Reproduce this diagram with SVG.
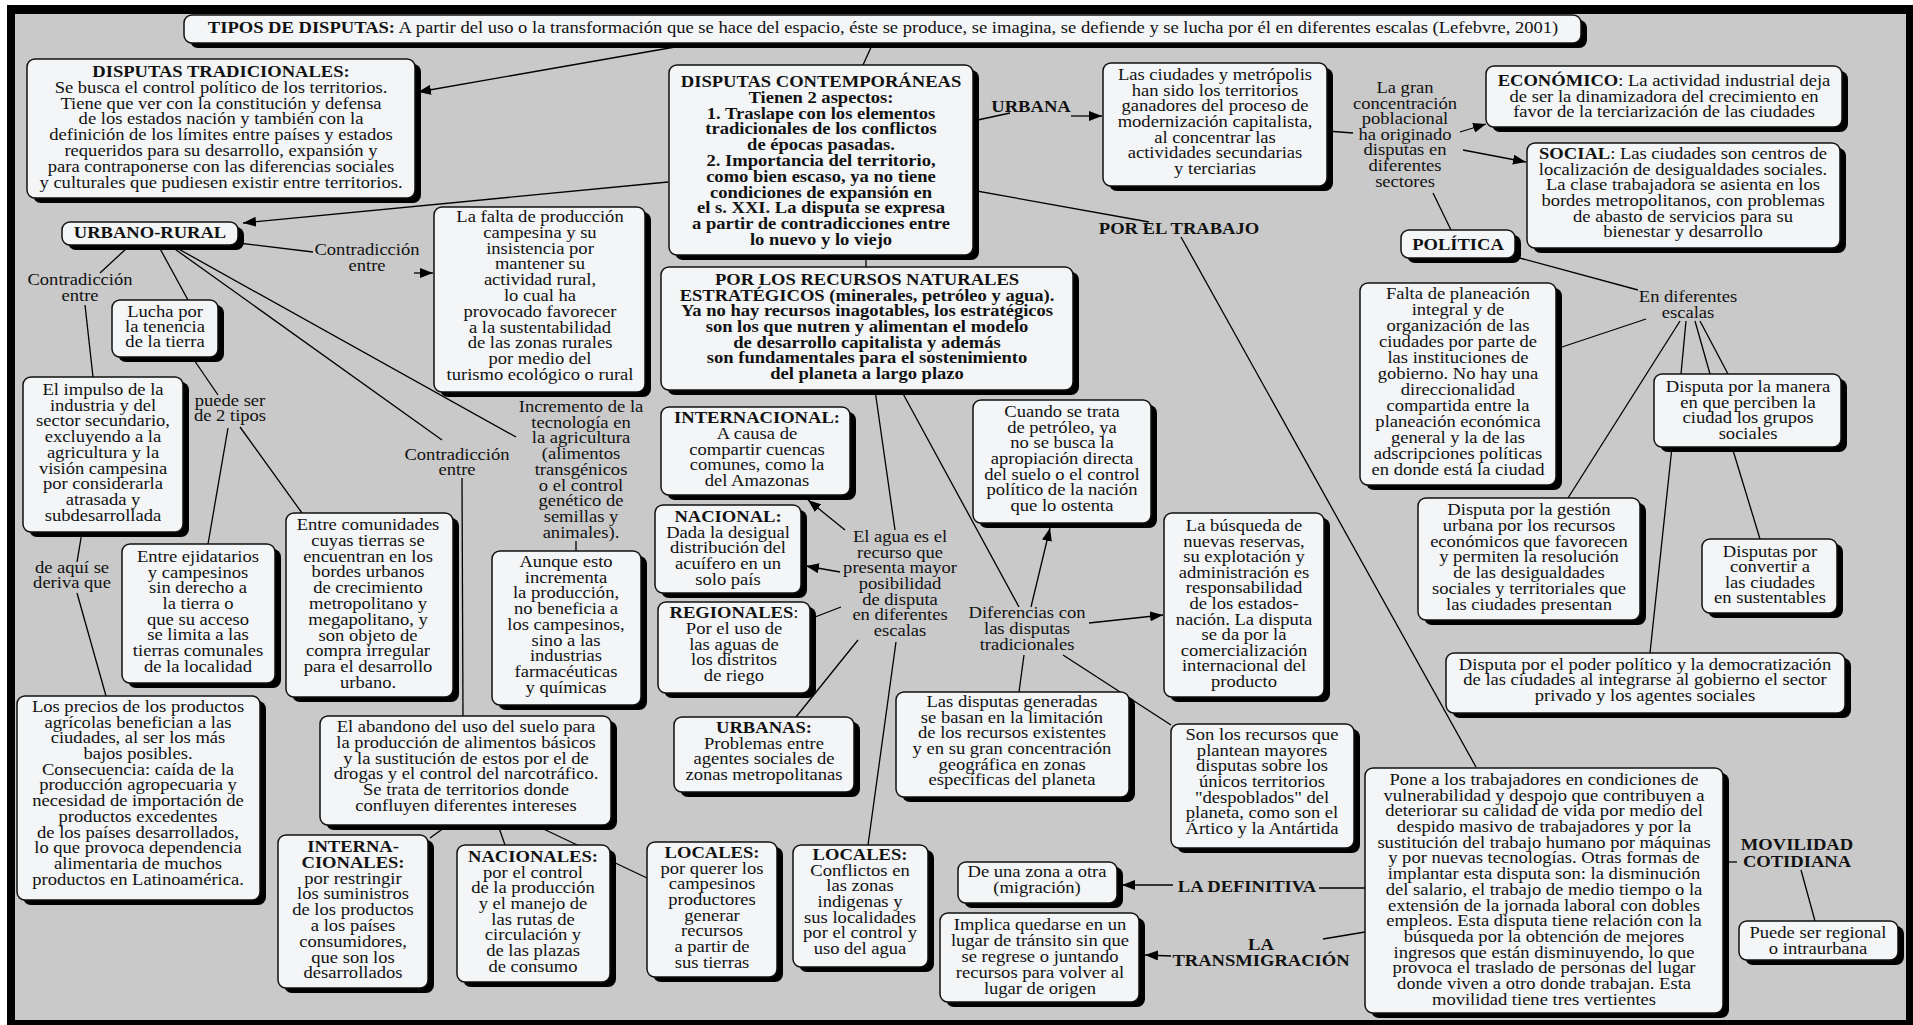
<svg xmlns="http://www.w3.org/2000/svg" width="1913" height="1025" viewBox="0 0 1913 1025">
<style>
.sh{fill:#000}
.bx{fill:#f3f5f7;stroke:#111;stroke-width:1.5}
.t{font-family:"Liberation Serif","Times New Roman",serif;font-size:16px;fill:#111;text-anchor:middle}
.b{font-weight:bold}
.ln{stroke:#000;stroke-width:1.3;fill:none}
.ar{marker-end:url(#ah)}
</style>
<defs>
<marker id="ah" markerUnits="userSpaceOnUse" markerWidth="14" markerHeight="10" refX="13" refY="5" orient="auto">
<path d="M0,0 L13,5 L0,10 z" fill="#000"/>
</marker>
</defs>
<rect x="0" y="0" width="1913" height="1025" fill="#fff"/>
<rect x="7" y="5" width="1906" height="1020" fill="#000"/>
<rect x="15" y="14" width="1891" height="1006" fill="#c9c9c9"/>

<g id="connectors">
<line class="ln ar" x1="675" y1="47" x2="418" y2="92"/>
<line class="ln" x1="873" y1="43" x2="863" y2="65"/>
<line class="ln ar" x1="668" y1="182" x2="243" y2="223"/>
<line class="ln" x1="973" y1="121" x2="1010" y2="113"/>
<line class="ln ar" x1="1071" y1="116" x2="1102" y2="116"/>
<line class="ln" x1="960" y1="188" x2="1149" y2="222"/>
<line class="ln" x1="1181" y1="237" x2="1476" y2="767"/>
<line class="ln" x1="866" y1="255" x2="866" y2="267"/>
<line class="ln" x1="1327" y1="131" x2="1353" y2="133"/>
<line class="ln ar" x1="1460" y1="132" x2="1486" y2="124"/>
<line class="ln ar" x1="1463" y1="150" x2="1526" y2="162"/>
<line class="ln" x1="1433" y1="193" x2="1451" y2="230"/>
<line class="ln" x1="1516" y1="257" x2="1638" y2="290"/>
<line class="ln" x1="1646" y1="319" x2="1556" y2="349"/>
<line class="ln" x1="1680" y1="321" x2="1568" y2="498"/>
<line class="ln" x1="1686" y1="321" x2="1681" y2="374"/>
<line class="ln" x1="1695" y1="321" x2="1710" y2="374"/>
<line class="ln" x1="1700" y1="321" x2="1728" y2="374"/>
<line class="ln" x1="1672" y1="447" x2="1650" y2="653"/>
<line class="ln" x1="1732" y1="447" x2="1760" y2="539"/>
<line class="ln" x1="1723" y1="862" x2="1737" y2="862"/>
<line class="ln" x1="1801" y1="870" x2="1815" y2="921"/>
<line class="ln" x1="1365" y1="888" x2="1319" y2="888"/>
<line class="ln ar" x1="1173" y1="885" x2="1122" y2="885"/>
<line class="ln" x1="1365" y1="932" x2="1323" y2="939"/>
<line class="ln ar" x1="1171" y1="956" x2="1145" y2="955"/>
<line class="ln" x1="875" y1="390" x2="895" y2="530"/>
<line class="ln" x1="901" y1="390" x2="1019" y2="607"/>
<line class="ln ar" x1="845" y1="530" x2="808" y2="500"/>
<line class="ln ar" x1="840" y1="572" x2="806" y2="566"/>
<line class="ln" x1="841" y1="607" x2="815" y2="617"/>
<line class="ln" x1="858" y1="640" x2="796" y2="717"/>
<line class="ln" x1="896" y1="642" x2="868" y2="845"/>
<line class="ln ar" x1="1031" y1="607" x2="1050" y2="528"/>
<line class="ln ar" x1="1089" y1="623" x2="1163" y2="615"/>
<line class="ln" x1="1024" y1="655" x2="1019" y2="692"/>
<line class="ln" x1="1063" y1="655" x2="1171" y2="725"/>
<line class="ln" x1="238" y1="243" x2="313" y2="252"/>
<line class="ln ar" x1="414" y1="273" x2="433" y2="273"/>
<line class="ln" x1="128" y1="247" x2="100" y2="273"/>
<line class="ln" x1="85" y1="305" x2="93" y2="377"/>
<line class="ln" x1="158" y1="245" x2="188" y2="300"/>
<line class="ln" x1="172" y1="247" x2="442" y2="440"/>
<line class="ln" x1="175" y1="247" x2="516" y2="437"/>
<line class="ln" x1="192" y1="357" x2="218" y2="395"/>
<line class="ln" x1="228" y1="428" x2="208" y2="544"/>
<line class="ln" x1="240" y1="427" x2="302" y2="513"/>
<line class="ln" x1="82" y1="532" x2="77" y2="562"/>
<line class="ln" x1="77" y1="593" x2="106" y2="696"/>
<line class="ln" x1="462" y1="478" x2="463" y2="716"/>
<line class="ln" x1="576" y1="541" x2="576" y2="551"/>
<line class="ln" x1="448" y1="825" x2="430" y2="838"/>
<line class="ln" x1="498" y1="825" x2="505" y2="845"/>
<line class="ln" x1="535" y1="825" x2="647" y2="878"/>
</g>

<g id="n-title">
<rect class="sh" x="190" y="20" width="1397" height="28" rx="8"/>
<rect class="bx" x="184" y="15" width="1397" height="28" rx="8"/>
<text class="t" transform="translate(883,0) scale(1.16,1)"><tspan x="0" y="33.5"><tspan class="b">TIPOS DE DISPUTAS:</tspan> A partir del uso o la transformación que se hace del espacio, éste se produce, se imagina, se defiende y se  lucha por él en diferentes escalas  (Lefebvre, 2001)</tspan></text>
</g>

<g id="n-tradicionales">
<rect class="sh" x="33" y="64" width="388" height="139" rx="8"/>
<rect class="bx" x="27" y="59" width="388" height="139" rx="8"/>
<text class="t" transform="translate(221,0) scale(1.16,1)"><tspan x="0" y="77" class="b">DISPUTAS TRADICIONALES:</tspan><tspan x="0" dy="15.8">Se busca el control político de los territorios.</tspan><tspan x="0" dy="15.8">Tiene que ver con la constitución y defensa</tspan><tspan x="0" dy="15.8">de los estados nación y también con la</tspan><tspan x="0" dy="15.8">definición de los límites entre países y estados</tspan><tspan x="0" dy="15.8">requeridos para su desarrollo, expansión y</tspan><tspan x="0" dy="15.8">para contraponerse con las diferencias sociales</tspan><tspan x="0" dy="15.8">y culturales que pudiesen existir entre territorios.</tspan></text>
</g>

<g id="n-urbanorural">
<rect class="sh" x="68" y="227" width="176" height="23" rx="8"/>
<rect class="bx" x="62" y="222" width="176" height="23" rx="8"/>
<text class="t b" transform="translate(150,0) scale(1.16,1)"><tspan x="0" y="238">URBANO-RURAL</tspan></text>
</g>

<g id="n-contemporaneas">
<rect class="sh" x="675" y="70" width="304" height="190" rx="8"/>
<rect class="bx" x="669" y="65" width="304" height="190" rx="8"/>
<text class="t b" transform="translate(821,0) scale(1.16,1)"><tspan x="0" y="87">DISPUTAS CONTEMPORÁNEAS</tspan><tspan x="0" dy="15.8">Tienen 2 aspectos:</tspan><tspan x="0" dy="15.8">1. Traslape con los elementos</tspan><tspan x="0" dy="15.8">tradicionales de los conflictos</tspan><tspan x="0" dy="15.8">de épocas pasadas.</tspan><tspan x="0" dy="15.8">2. Importancia del territorio,</tspan><tspan x="0" dy="15.8">como bien escaso, ya no tiene</tspan><tspan x="0" dy="15.8">condiciones de expansión en</tspan><tspan x="0" dy="15.8">el s. XXI. La disputa se expresa</tspan><tspan x="0" dy="15.8">a partir de contradicciones entre</tspan><tspan x="0" dy="15.8">lo nuevo y lo viejo</tspan></text>
</g>

<g id="n-falta-produccion">
<rect class="sh" x="440" y="212" width="211" height="185" rx="8"/>
<rect class="bx" x="434" y="207" width="211" height="185" rx="8"/>
<text class="t" transform="translate(540,0) scale(1.16,1)"><tspan x="0" y="222">La falta de producción</tspan><tspan x="0" dy="15.8">campesina y su</tspan><tspan x="0" dy="15.8">insistencia por</tspan><tspan x="0" dy="15.8">mantener su</tspan><tspan x="0" dy="15.8">actividad rural,</tspan><tspan x="0" dy="15.8">lo cual ha</tspan><tspan x="0" dy="15.8">provocado favorecer</tspan><tspan x="0" dy="15.8">a la sustentabilidad</tspan><tspan x="0" dy="15.8">de las zonas rurales</tspan><tspan x="0" dy="15.8">por medio del</tspan><tspan x="0" dy="15.8">turismo ecológico o rural</tspan></text>
</g>

<g id="n-recursos">
<rect class="sh" x="667" y="272" width="412" height="123" rx="8"/>
<rect class="bx" x="661" y="267" width="412" height="123" rx="8"/>
<text class="t b" transform="translate(867,0) scale(1.16,1)"><tspan x="0" y="285">POR LOS RECURSOS NATURALES</tspan><tspan x="0" dy="15.7">ESTRATÉGICOS (minerales, petróleo y agua).</tspan><tspan x="0" dy="15.7">Ya no hay recursos inagotables, los estratégicos</tspan><tspan x="0" dy="15.7">son los que nutren y alimentan el modelo</tspan><tspan x="0" dy="15.7">de desarrollo capitalista y además</tspan><tspan x="0" dy="15.7">son fundamentales para el sostenimiento</tspan><tspan x="0" dy="15.7">del planeta a largo plazo</tspan></text>
</g>

<g id="n-urbana-label">
<text class="t b" transform="translate(1031,0) scale(1.16,1)"><tspan x="0" y="112">URBANA</tspan></text>
</g>

<g id="n-ciudades">
<rect class="sh" x="1109" y="68" width="224" height="123" rx="8"/>
<rect class="bx" x="1103" y="63" width="224" height="123" rx="8"/>
<text class="t" transform="translate(1215,0) scale(1.16,1)"><tspan x="0" y="80">Las ciudades y metrópolis</tspan><tspan x="0" dy="15.7">han sido los territorios</tspan><tspan x="0" dy="15.7">ganadores del proceso de</tspan><tspan x="0" dy="15.7">modernización capitalista,</tspan><tspan x="0" dy="15.7">al concentrar las</tspan><tspan x="0" dy="15.7">actividades secundarias</tspan><tspan x="0" dy="15.7">y terciarias</tspan></text>
</g>

<g id="n-gran-concentracion">
<text class="t" transform="translate(1405,0) scale(1.16,1)"><tspan x="0" y="93">La gran</tspan><tspan x="0" dy="15.6">concentración</tspan><tspan x="0" dy="15.6">poblacional</tspan><tspan x="0" dy="15.6">ha originado</tspan><tspan x="0" dy="15.6">disputas en</tspan><tspan x="0" dy="15.6">diferentes</tspan><tspan x="0" dy="15.6">sectores</tspan></text>
</g>

<g id="n-economico">
<rect class="sh" x="1492" y="71" width="356" height="61" rx="8"/>
<rect class="bx" x="1486" y="66" width="356" height="61" rx="8"/>
<text class="t" transform="translate(1664,0) scale(1.16,1)"><tspan x="0" y="86"><tspan class="b">ECONÓMICO</tspan>: La actividad industrial deja</tspan><tspan x="0" dy="15.7">de ser la dinamizadora del crecimiento en</tspan><tspan x="0" dy="15.7">favor de la terciarización de las ciudades</tspan></text>
</g>

<g id="n-social">
<rect class="sh" x="1533" y="148" width="313" height="105" rx="8"/>
<rect class="bx" x="1527" y="143" width="313" height="105" rx="8"/>
<text class="t" transform="translate(1683,0) scale(1.16,1)"><tspan x="0" y="159"><tspan class="b">SOCIAL</tspan>: Las ciudades son centros de</tspan><tspan x="0" dy="15.7">localización de desigualdades sociales.</tspan><tspan x="0" dy="15.7">La clase trabajadora se asienta en los</tspan><tspan x="0" dy="15.7">bordes metropolitanos, con problemas</tspan><tspan x="0" dy="15.7">de abasto de servicios para su</tspan><tspan x="0" dy="15.7">bienestar y desarrollo</tspan></text>
</g>

<g id="n-politica">
<rect class="sh" x="1407" y="235" width="114" height="28" rx="8"/>
<rect class="bx" x="1401" y="230" width="114" height="28" rx="8"/>
<text class="t b" transform="translate(1458,0) scale(1.16,1)"><tspan x="0" y="250">POLÍTICA</tspan></text>
</g>

<g id="n-escalas-label">
<text class="t" transform="translate(1688,0) scale(1.16,1)"><tspan x="0" y="302">En diferentes</tspan><tspan x="0" dy="16">escalas</tspan></text>
</g>

<g id="n-falta-planeacion">
<rect class="sh" x="1366" y="288" width="196" height="202" rx="8"/>
<rect class="bx" x="1360" y="283" width="196" height="202" rx="8"/>
<text class="t" transform="translate(1458,0) scale(1.16,1)"><tspan x="0" y="299">Falta de planeación</tspan><tspan x="0" dy="16">integral y de</tspan><tspan x="0" dy="16">organización de las</tspan><tspan x="0" dy="16">ciudades por parte de</tspan><tspan x="0" dy="16">las instituciones de</tspan><tspan x="0" dy="16">gobierno. No hay una</tspan><tspan x="0" dy="16">direccionalidad</tspan><tspan x="0" dy="16">compartida entre la</tspan><tspan x="0" dy="16">planeación económica</tspan><tspan x="0" dy="16">general y la de las</tspan><tspan x="0" dy="16">adscripciones políticas</tspan><tspan x="0" dy="16">en donde está la ciudad</tspan></text>
</g>

<g id="n-manera">
<rect class="sh" x="1660" y="379" width="187" height="73" rx="8"/>
<rect class="bx" x="1654" y="374" width="187" height="73" rx="8"/>
<text class="t" transform="translate(1748,0) scale(1.16,1)"><tspan x="0" y="392">Disputa por la manera</tspan><tspan x="0" dy="15.7">en que perciben la</tspan><tspan x="0" dy="15.7">ciudad los grupos</tspan><tspan x="0" dy="15.7">sociales</tspan></text>
</g>

<g id="n-gestion">
<rect class="sh" x="1424" y="503" width="222" height="122" rx="8"/>
<rect class="bx" x="1418" y="498" width="222" height="122" rx="8"/>
<text class="t" transform="translate(1529,0) scale(1.16,1)"><tspan x="0" y="515">Disputa por la gestión</tspan><tspan x="0" dy="15.8">urbana por los recursos</tspan><tspan x="0" dy="15.8">económicos que favorecen</tspan><tspan x="0" dy="15.8">y permiten la resolución</tspan><tspan x="0" dy="15.8">de las desigualdades</tspan><tspan x="0" dy="15.8">sociales y territoriales que</tspan><tspan x="0" dy="15.8">las ciudades presentan</tspan></text>
</g>

<g id="n-sustentables">
<rect class="sh" x="1708" y="544" width="135" height="74" rx="8"/>
<rect class="bx" x="1702" y="539" width="135" height="74" rx="8"/>
<text class="t" transform="translate(1770,0) scale(1.16,1)"><tspan x="0" y="557">Disputas por</tspan><tspan x="0" dy="15.5">convertir a</tspan><tspan x="0" dy="15.5">las ciudades</tspan><tspan x="0" dy="15.5">en sustentables</tspan></text>
</g>

<g id="n-poder">
<rect class="sh" x="1452" y="658" width="399" height="60" rx="8"/>
<rect class="bx" x="1446" y="653" width="399" height="60" rx="8"/>
<text class="t" transform="translate(1645,0) scale(1.16,1)"><tspan x="0" y="670">Disputa por el poder político y la democratización</tspan><tspan x="0" dy="15.5">de las ciudades al integrarse al gobierno el sector</tspan><tspan x="0" dy="15.5">privado y los agentes sociales</tspan></text>
</g>

<g id="n-trabajo-label">
<text class="t b" transform="translate(1179,0) scale(1.16,1)"><tspan x="0" y="234">POR EL TRABAJO</tspan></text>
</g>

<g id="n-pone">
<rect class="sh" x="1371" y="773" width="358" height="245" rx="8"/>
<rect class="bx" x="1365" y="768" width="358" height="245" rx="8"/>
<text class="t" transform="translate(1544,0) scale(1.16,1)"><tspan x="0" y="785">Pone a los trabajadores en condiciones de</tspan><tspan x="0" dy="15.7">vulnerabilidad y despojo que contribuyen a</tspan><tspan x="0" dy="15.7">deteriorar su calidad de vida por medio del</tspan><tspan x="0" dy="15.7">despido masivo de trabajadores y por la</tspan><tspan x="0" dy="15.7">sustitución del trabajo humano por máquinas</tspan><tspan x="0" dy="15.7">y por nuevas tecnologías. Otras formas de</tspan><tspan x="0" dy="15.7">implantar esta disputa son: la disminución</tspan><tspan x="0" dy="15.7">del salario, el trabajo de medio tiempo o la</tspan><tspan x="0" dy="15.7">extensión de la jornada laboral con dobles</tspan><tspan x="0" dy="15.7">empleos. Esta disputa tiene relación con la</tspan><tspan x="0" dy="15.7">búsqueda por la obtención de mejores</tspan><tspan x="0" dy="15.7">ingresos que están disminuyendo, lo que</tspan><tspan x="0" dy="15.7">provoca el traslado de personas del lugar</tspan><tspan x="0" dy="15.7">donde viven a otro donde trabajan. Esta</tspan><tspan x="0" dy="15.7">movilidad tiene tres vertientes</tspan></text>
</g>

<g id="n-movilidad-label">
<text class="t b" transform="translate(1797,0) scale(1.16,1)"><tspan x="0" y="850">MOVILIDAD</tspan><tspan x="0" dy="17">COTIDIANA</tspan></text>
</g>

<g id="n-regional">
<rect class="sh" x="1745" y="926" width="159" height="39" rx="8"/>
<rect class="bx" x="1739" y="921" width="159" height="39" rx="8"/>
<text class="t" transform="translate(1818,0) scale(1.16,1)"><tspan x="0" y="938">Puede ser regional</tspan><tspan x="0" dy="16">o intraurbana</tspan></text>
</g>

<g id="n-definitiva-label">
<text class="t b" transform="translate(1247,0) scale(1.16,1)"><tspan x="0" y="892">LA DEFINITIVA</tspan></text>
</g>

<g id="n-zona">
<rect class="sh" x="964" y="867" width="159" height="41" rx="8"/>
<rect class="bx" x="958" y="862" width="159" height="41" rx="8"/>
<text class="t" transform="translate(1037,0) scale(1.16,1)"><tspan x="0" y="877">De una zona a otra</tspan><tspan x="0" dy="16">(migración)</tspan></text>
</g>

<g id="n-transmigracion-label">
<text class="t b" transform="translate(1261,0) scale(1.16,1)"><tspan x="0" y="950">LA</tspan><tspan x="0" dy="16">TRANSMIGRACIÓN</tspan></text>
</g>

<g id="n-implica">
<rect class="sh" x="946" y="918" width="199" height="89" rx="8"/>
<rect class="bx" x="940" y="913" width="199" height="89" rx="8"/>
<text class="t" transform="translate(1040,0) scale(1.16,1)"><tspan x="0" y="930">Implica quedarse en un</tspan><tspan x="0" dy="16">lugar de tránsito sin que</tspan><tspan x="0" dy="16">se regrese o juntando</tspan><tspan x="0" dy="16">recursos para volver al</tspan><tspan x="0" dy="16">lugar de origen</tspan></text>
</g>

<g id="n-son-recursos">
<rect class="sh" x="1177" y="729" width="183" height="124" rx="8"/>
<rect class="bx" x="1171" y="724" width="183" height="124" rx="8"/>
<text class="t" transform="translate(1262,0) scale(1.16,1)"><tspan x="0" y="740">Son los recursos que</tspan><tspan x="0" dy="15.7">plantean mayores</tspan><tspan x="0" dy="15.7">disputas sobre los</tspan><tspan x="0" dy="15.7">únicos territorios</tspan><tspan x="0" dy="15.7">"despoblados" del</tspan><tspan x="0" dy="15.7">planeta, como son el</tspan><tspan x="0" dy="15.7">Ártico y la Antártida</tspan></text>
</g>

<g id="n-generadas">
<rect class="sh" x="902" y="697" width="233" height="105" rx="8"/>
<rect class="bx" x="896" y="692" width="233" height="105" rx="8"/>
<text class="t" transform="translate(1012,0) scale(1.16,1)"><tspan x="0" y="707">Las disputas generadas</tspan><tspan x="0" dy="15.7">se basan en la limitación</tspan><tspan x="0" dy="15.7">de los recursos existentes</tspan><tspan x="0" dy="15.7">y en su gran concentración</tspan><tspan x="0" dy="15.7">geográfica en zonas</tspan><tspan x="0" dy="15.7">específicas del planeta</tspan></text>
</g>

<g id="n-busqueda">
<rect class="sh" x="1170" y="518" width="160" height="184" rx="8"/>
<rect class="bx" x="1164" y="513" width="160" height="184" rx="8"/>
<text class="t" transform="translate(1244,0) scale(1.16,1)"><tspan x="0" y="531">La búsqueda de</tspan><tspan x="0" dy="15.6">nuevas reservas,</tspan><tspan x="0" dy="15.6">su explotación y</tspan><tspan x="0" dy="15.6">administración es</tspan><tspan x="0" dy="15.6">responsabilidad</tspan><tspan x="0" dy="15.6">de los estados-</tspan><tspan x="0" dy="15.6">nación. La disputa</tspan><tspan x="0" dy="15.6">se da por la</tspan><tspan x="0" dy="15.6">comercialización</tspan><tspan x="0" dy="15.6">internacional del</tspan><tspan x="0" dy="15.6">producto</tspan></text>
</g>

<g id="n-petroleo">
<rect class="sh" x="979" y="405" width="178" height="123" rx="8"/>
<rect class="bx" x="973" y="400" width="178" height="123" rx="8"/>
<text class="t" transform="translate(1062,0) scale(1.16,1)"><tspan x="0" y="417">Cuando se trata</tspan><tspan x="0" dy="15.7">de petróleo, ya</tspan><tspan x="0" dy="15.7">no se busca la</tspan><tspan x="0" dy="15.7">apropiación directa</tspan><tspan x="0" dy="15.7">del suelo o el control</tspan><tspan x="0" dy="15.7">político de la nación</tspan><tspan x="0" dy="15.7">que lo ostenta</tspan></text>
</g>

<g id="n-diferencias-label">
<text class="t" transform="translate(1027,0) scale(1.16,1)"><tspan x="0" y="618">Diferencias con</tspan><tspan x="0" dy="16">las disputas</tspan><tspan x="0" dy="16">tradicionales</tspan></text>
</g>

<g id="n-internacional">
<rect class="sh" x="667" y="412" width="189" height="88" rx="8"/>
<rect class="bx" x="661" y="407" width="189" height="88" rx="8"/>
<text class="t" transform="translate(757,0) scale(1.16,1)"><tspan x="0" y="423" class="b">INTERNACIONAL:</tspan><tspan x="0" dy="15.8">A causa de</tspan><tspan x="0" dy="15.8">compartir cuencas</tspan><tspan x="0" dy="15.8">comunes, como la</tspan><tspan x="0" dy="15.8">del Amazonas</tspan></text>
</g>

<g id="n-nacional">
<rect class="sh" x="661" y="510" width="146" height="88" rx="8"/>
<rect class="bx" x="655" y="505" width="146" height="88" rx="8"/>
<text class="t" transform="translate(728,0) scale(1.16,1)"><tspan x="0" y="522" class="b">NACIONAL:</tspan><tspan x="0" dy="15.7">Dada la desigual</tspan><tspan x="0" dy="15.7">distribución del</tspan><tspan x="0" dy="15.7">acuífero en un</tspan><tspan x="0" dy="15.7">solo país</tspan></text>
</g>

<g id="n-regionales">
<rect class="sh" x="664" y="607" width="152" height="91" rx="8"/>
<rect class="bx" x="658" y="602" width="152" height="91" rx="8"/>
<text class="t" transform="translate(734,0) scale(1.16,1)"><tspan x="0" y="618"><tspan class="b">REGIONALES</tspan>:</tspan><tspan x="0" dy="15.8">Por el uso de</tspan><tspan x="0" dy="15.8">las aguas de</tspan><tspan x="0" dy="15.8">los distritos</tspan><tspan x="0" dy="15.8">de riego</tspan></text>
</g>

<g id="n-agua-label">
<text class="t" transform="translate(900,0) scale(1.16,1)"><tspan x="0" y="542">El agua es el</tspan><tspan x="0" dy="15.7">recurso que</tspan><tspan x="0" dy="15.7">presenta mayor</tspan><tspan x="0" dy="15.7">posibilidad</tspan><tspan x="0" dy="15.7">de disputa</tspan><tspan x="0" dy="15.7">en diferentes</tspan><tspan x="0" dy="15.7">escalas</tspan></text>
</g>

<g id="n-urbanas">
<rect class="sh" x="680" y="722" width="180" height="75" rx="8"/>
<rect class="bx" x="674" y="717" width="180" height="75" rx="8"/>
<text class="t" transform="translate(764,0) scale(1.16,1)"><tspan x="0" y="733" class="b">URBANAS:</tspan><tspan x="0" dy="15.7">Problemas entre</tspan><tspan x="0" dy="15.7">agentes sociales de</tspan><tspan x="0" dy="15.7">zonas metropolitanas</tspan></text>
</g>

<g id="n-locales-campesinos">
<rect class="sh" x="653" y="847" width="130" height="135" rx="8"/>
<rect class="bx" x="647" y="842" width="130" height="135" rx="8"/>
<text class="t" transform="translate(712,0) scale(1.16,1)"><tspan x="0" y="858" class="b">LOCALES:</tspan><tspan x="0" dy="15.7">por querer los</tspan><tspan x="0" dy="15.7">campesinos</tspan><tspan x="0" dy="15.7">productores</tspan><tspan x="0" dy="15.7">generar</tspan><tspan x="0" dy="15.7">recursos</tspan><tspan x="0" dy="15.7">a partir de</tspan><tspan x="0" dy="15.7">sus tierras</tspan></text>
</g>

<g id="n-locales-indigenas">
<rect class="sh" x="799" y="850" width="135" height="122" rx="8"/>
<rect class="bx" x="793" y="845" width="135" height="122" rx="8"/>
<text class="t" transform="translate(860,0) scale(1.16,1)"><tspan x="0" y="860" class="b">LOCALES:</tspan><tspan x="0" dy="15.7">Conflictos en</tspan><tspan x="0" dy="15.7">las zonas</tspan><tspan x="0" dy="15.7">indigenas y</tspan><tspan x="0" dy="15.7">sus localidades</tspan><tspan x="0" dy="15.7">por el control y</tspan><tspan x="0" dy="15.7">uso del agua</tspan></text>
</g>

<g id="n-nacionales">
<rect class="sh" x="463" y="850" width="153" height="137" rx="8"/>
<rect class="bx" x="457" y="845" width="153" height="137" rx="8"/>
<text class="t" transform="translate(533,0) scale(1.16,1)"><tspan x="0" y="862" class="b">NACIONALES:</tspan><tspan x="0" dy="15.7">por el control</tspan><tspan x="0" dy="15.7">de la producción</tspan><tspan x="0" dy="15.7">y el manejo de</tspan><tspan x="0" dy="15.7">las rutas de</tspan><tspan x="0" dy="15.7">circulación y</tspan><tspan x="0" dy="15.7">de las plazas</tspan><tspan x="0" dy="15.7">de consumo</tspan></text>
</g>

<g id="n-internacionales">
<rect class="sh" x="284" y="840" width="150" height="153" rx="8"/>
<rect class="bx" x="278" y="835" width="150" height="153" rx="8"/>
<text class="t" transform="translate(353,0) scale(1.16,1)"><tspan x="0" y="852" class="b">INTERNA-</tspan><tspan x="0" dy="15.8" class="b">CIONALES:</tspan><tspan x="0" dy="15.8">por restringir</tspan><tspan x="0" dy="15.8">los suministros</tspan><tspan x="0" dy="15.8">de los productos</tspan><tspan x="0" dy="15.8">a los países</tspan><tspan x="0" dy="15.8">consumidores,</tspan><tspan x="0" dy="15.8">que son los</tspan><tspan x="0" dy="15.8">desarrollados</tspan></text>
</g>

<g id="n-abandono">
<rect class="sh" x="326" y="721" width="291" height="109" rx="8"/>
<rect class="bx" x="320" y="716" width="291" height="109" rx="8"/>
<text class="t" transform="translate(466,0) scale(1.16,1)"><tspan x="0" y="732">El abandono del uso del suelo para</tspan><tspan x="0" dy="15.8">la producción de alimentos básicos</tspan><tspan x="0" dy="15.8">y la sustitución de estos por el de</tspan><tspan x="0" dy="15.8">drogas y el control del narcotráfico.</tspan><tspan x="0" dy="15.8">Se trata de territorios donde</tspan><tspan x="0" dy="15.8">confluyen diferentes intereses</tspan></text>
</g>

<g id="n-precios">
<rect class="sh" x="23" y="701" width="243" height="204" rx="8"/>
<rect class="bx" x="17" y="696" width="243" height="204" rx="8"/>
<text class="t" transform="translate(138,0) scale(1.16,1)"><tspan x="0" y="712">Los precios de los productos</tspan><tspan x="0" dy="15.7">agrícolas benefician a las</tspan><tspan x="0" dy="15.7">ciudades, al ser los más</tspan><tspan x="0" dy="15.7">bajos posibles.</tspan><tspan x="0" dy="15.7">Consecuencia: caída de la</tspan><tspan x="0" dy="15.7">producción agropecuaria y</tspan><tspan x="0" dy="15.7">necesidad de importación de</tspan><tspan x="0" dy="15.7">productos excedentes</tspan><tspan x="0" dy="15.7">de los países desarrollados,</tspan><tspan x="0" dy="15.7">lo que provoca dependencia</tspan><tspan x="0" dy="15.7">alimentaria de muchos</tspan><tspan x="0" dy="15.7">productos en Latinoamérica.</tspan></text>
</g>

<g id="n-ejidatarios">
<rect class="sh" x="128" y="549" width="153" height="139" rx="8"/>
<rect class="bx" x="122" y="544" width="153" height="139" rx="8"/>
<text class="t" transform="translate(198,0) scale(1.16,1)"><tspan x="0" y="562">Entre ejidatarios</tspan><tspan x="0" dy="15.7">y campesinos</tspan><tspan x="0" dy="15.7">sin derecho a</tspan><tspan x="0" dy="15.7">la tierra o</tspan><tspan x="0" dy="15.7">que su acceso</tspan><tspan x="0" dy="15.7">se limita a las</tspan><tspan x="0" dy="15.7">tierras comunales</tspan><tspan x="0" dy="15.7">de la localidad</tspan></text>
</g>

<g id="n-comunidades">
<rect class="sh" x="292" y="518" width="167" height="184" rx="8"/>
<rect class="bx" x="286" y="513" width="167" height="184" rx="8"/>
<text class="t" transform="translate(368,0) scale(1.16,1)"><tspan x="0" y="530">Entre comunidades</tspan><tspan x="0" dy="15.8">cuyas tierras se</tspan><tspan x="0" dy="15.8">encuentran en los</tspan><tspan x="0" dy="15.8">bordes urbanos</tspan><tspan x="0" dy="15.8">de crecimiento</tspan><tspan x="0" dy="15.8">metropolitano y</tspan><tspan x="0" dy="15.8">megapolitano, y</tspan><tspan x="0" dy="15.8">son objeto de</tspan><tspan x="0" dy="15.8">compra irregular</tspan><tspan x="0" dy="15.8">para el desarrollo</tspan><tspan x="0" dy="15.8">urbano.</tspan></text>
</g>

<g id="n-impulso">
<rect class="sh" x="29" y="382" width="160" height="155" rx="8"/>
<rect class="bx" x="23" y="377" width="160" height="155" rx="8"/>
<text class="t" transform="translate(103,0) scale(1.16,1)"><tspan x="0" y="395">El impulso de la</tspan><tspan x="0" dy="15.75">industria y del</tspan><tspan x="0" dy="15.75">sector secundario,</tspan><tspan x="0" dy="15.75">excluyendo a la</tspan><tspan x="0" dy="15.75">agricultura y la</tspan><tspan x="0" dy="15.75">visión campesina</tspan><tspan x="0" dy="15.75">por considerarla</tspan><tspan x="0" dy="15.75">atrasada y</tspan><tspan x="0" dy="15.75">subdesarrollada</tspan></text>
</g>

<g id="n-lucha">
<rect class="sh" x="118" y="305" width="106" height="57" rx="8"/>
<rect class="bx" x="112" y="300" width="106" height="57" rx="8"/>
<text class="t" transform="translate(165,0) scale(1.16,1)"><tspan x="0" y="317">Lucha por</tspan><tspan x="0" dy="15">la tenencia</tspan><tspan x="0" dy="15">de la tierra</tspan></text>
</g>

<g id="n-contradiccion-izq">
<text class="t" transform="translate(80,0) scale(1.16,1)"><tspan x="0" y="285">Contradicción</tspan><tspan x="0" dy="16">entre</tspan></text>
</g>
<g id="n-contradiccion-der">
<text class="t" transform="translate(367,0) scale(1.16,1)"><tspan x="0" y="255">Contradicción</tspan><tspan x="0" dy="16">entre</tspan></text>
</g>
<g id="n-puede-ser">
<text class="t" transform="translate(230,0) scale(1.16,1)"><tspan x="0" y="406">puede ser</tspan><tspan x="0" dy="15.5">de 2 tipos</tspan></text>
</g>
<g id="n-deriva">
<text class="t" transform="translate(72,0) scale(1.16,1)"><tspan x="0" y="573">de aquí se</tspan><tspan x="0" dy="15.5">deriva que</tspan></text>
</g>
<g id="n-contradiccion-centro">
<text class="t" transform="translate(457,0) scale(1.16,1)"><tspan x="0" y="460">Contradicción</tspan><tspan x="0" dy="15.5">entre</tspan></text>
</g>
<g id="n-incremento">
<text class="t" transform="translate(581,0) scale(1.16,1)"><tspan x="0" y="412">Incremento de la</tspan><tspan x="0" dy="15.75">tecnología en</tspan><tspan x="0" dy="15.75">la agricultura</tspan><tspan x="0" dy="15.75">(alimentos</tspan><tspan x="0" dy="15.75">transgénicos</tspan><tspan x="0" dy="15.75">o el control</tspan><tspan x="0" dy="15.75">genético de</tspan><tspan x="0" dy="15.75">semillas y</tspan><tspan x="0" dy="15.75">animales).</tspan></text>
</g>

<g id="n-aunque">
<rect class="sh" x="498" y="556" width="149" height="154" rx="8"/>
<rect class="bx" x="492" y="551" width="149" height="154" rx="8"/>
<text class="t" transform="translate(566,0) scale(1.16,1)"><tspan x="0" y="567">Aunque esto</tspan><tspan x="0" dy="15.75">incrementa</tspan><tspan x="0" dy="15.75">la producción,</tspan><tspan x="0" dy="15.75">no beneficia a</tspan><tspan x="0" dy="15.75">los campesinos,</tspan><tspan x="0" dy="15.75">sino a las</tspan><tspan x="0" dy="15.75">industrias</tspan><tspan x="0" dy="15.75">farmacéuticas</tspan><tspan x="0" dy="15.75">y químicas</tspan></text>
</g>
</svg>
